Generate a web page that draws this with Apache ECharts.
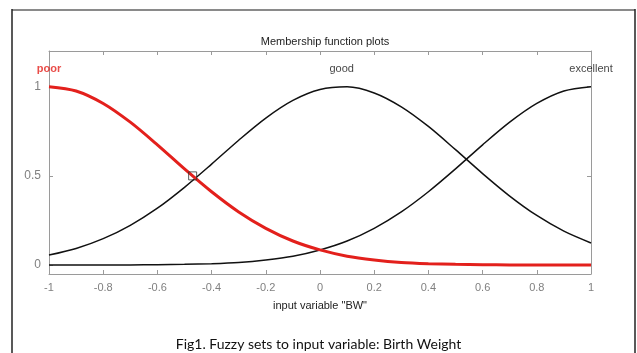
<!DOCTYPE html>
<html>
<head>
<meta charset="utf-8">
<script src="https://cdn.jsdelivr.net/npm/echarts@6/dist/echarts.min.js"></script>
<style>
  html, body { margin: 0; padding: 0; background: #fff; }
  #chart { width: 637px; height: 353px; }
</style>
</head>
<body>
<div id="chart"></div>
<script>
// input variable "BW", sampled every 0.1
const xs = [-1, -0.9, -0.8, -0.7, -0.6, -0.5, -0.4, -0.3, -0.2, -0.1, 0,
            0.1, 0.2, 0.3, 0.4, 0.5, 0.6, 0.7, 0.8, 0.9, 1]

// membership values
const poor = [1, 0.976, 0.906, 0.801, 0.674, 0.539, 0.411, 0.298, 0.206, 0.135, 0.085,
              0.050, 0.029, 0.015, 0.008, 0.004, 0.002, 0.001, 0.0005, 0.0002, 0.0001]
const good = [0.056, 0.093, 0.148, 0.223, 0.319, 0.436, 0.566, 0.700, 0.824, 0.923, 0.984,
              0.999, 0.965, 0.887, 0.777, 0.647, 0.513, 0.387, 0.278, 0.190, 0.124]
const excellent = [0.0001, 0.0002, 0.0005, 0.001, 0.002, 0.004, 0.008, 0.015, 0.029, 0.050, 0.085,
                   0.135, 0.206, 0.298, 0.411, 0.539, 0.674, 0.801, 0.906, 0.976, 1]

const mfNames = ['poor', 'good', 'excellent']
const mfPeaks = [-1, 0.08, 1]
const labelY = 1.1
const selected = [-0.47, 0.5]  // small square on the selected MF

const yTicks = [0, 0.5, 1]

const pairs = ys => xs.map((x, i) => [x, ys[i]])

const boxColor = '#9a9a9a'
const tickLabel = { color: '#808080', fontSize: 11, fontFamily: 'Liberation Sans' }

const chart = echarts.init(document.getElementById('chart'))

const option = {
  animation: false,
  backgroundColor: '#fff',
  title: {
    text: 'Membership function plots',
    left: 320,
    textAlign: 'center',
    top: 31,
    textStyle: { fontSize: 11, fontWeight: 'normal', color: '#222', fontFamily: 'Liberation Sans' }
  },
  grid: { left: 49, right: 46, top: 51, bottom: 79 },
  xAxis: [
    {
      type: 'value', min: -1, max: 1, interval: 0.2,
      name: 'input variable "BW"',
      nameLocation: 'middle',
      nameGap: 26,
      nameTextStyle: { color: '#222', fontSize: 11, fontFamily: 'Liberation Sans' },
      axisLine: { show: true, onZero: false, lineStyle: { color: boxColor } },
      axisTick: { show: true, inside: true, length: 4, lineStyle: { color: boxColor } },
      axisLabel: { ...tickLabel, margin: 8 },
      splitLine: { show: false }
    },
    {
      type: 'value', min: -1, max: 1, interval: 0.2, position: 'top',
      axisLine: { show: true, onZero: false, lineStyle: { color: boxColor } },
      axisTick: { show: true, inside: true, length: 4, lineStyle: { color: boxColor } },
      axisLabel: { show: false },
      splitLine: { show: false }
    }
  ],
  yAxis: [
    {
      type: 'value', min: -0.05, max: 1.2,
      axisLine: { show: true, onZero: false, lineStyle: { color: boxColor } },
      axisTick: { show: true, inside: true, length: 4, customValues: yTicks, lineStyle: { color: boxColor } },
      axisLabel: { ...tickLabel, fontSize: 12, margin: 8, customValues: yTicks },
      splitLine: { show: false }
    },
    {
      type: 'value', min: -0.05, max: 1.2, position: 'right',
      axisLine: { show: true, onZero: false, lineStyle: { color: boxColor } },
      axisTick: { show: true, inside: true, length: 4, customValues: yTicks, lineStyle: { color: boxColor } },
      axisLabel: { show: false },
      splitLine: { show: false }
    }
  ],
  series: [
    {
      name: 'good', type: 'line', data: pairs(good), smooth: 0.3, showSymbol: false,
      lineStyle: { color: '#111', width: 1.5 }, z: 2
    },
    {
      name: 'excellent', type: 'line', data: pairs(excellent), smooth: 0.3, showSymbol: false,
      lineStyle: { color: '#111', width: 1.5 }, z: 2
    },
    {
      name: 'poor', type: 'line', data: pairs(poor), smooth: 0.3, showSymbol: false,
      lineStyle: { color: '#e3201c', width: 3 }, z: 3
    },
    {
      type: 'scatter', symbol: 'rect', symbolSize: 8, z: 4,
      itemStyle: { color: 'rgba(0,0,0,0)', borderColor: '#333', borderWidth: 1 },
      data: [selected]
    },
    {
      type: 'scatter', symbolSize: 0, z: 5,
      data: mfNames.map((n, i) => ({
        value: [mfPeaks[i], labelY],
        label: {
          show: true, position: 'inside', formatter: n,
          fontSize: 11, fontFamily: 'Liberation Sans',
          color: i === 0 ? '#e3201c' : '#111',
          fontWeight: i === 0 ? 'bold' : 'normal'
        }
      }))
    }
  ],
  graphic: [
    // page frame around the figure
    { type: 'line', shape: { x1: 12, y1: 10, x2: 635, y2: 10 }, style: { stroke: '#8a8a8a', lineWidth: 2 } },
    { type: 'line', shape: { x1: 12, y1: 9, x2: 12, y2: 353 }, style: { stroke: '#222', lineWidth: 1.5 } },
    { type: 'line', shape: { x1: 635, y1: 9, x2: 635, y2: 353 }, style: { stroke: '#222', lineWidth: 1.5 } },
    {
      type: 'text', left: 'center', top: 337,
      style: {
        text: 'Fig1. Fuzzy sets to input variable: Birth Weight',
        fontSize: 14, fontFamily: 'Lato', fill: '#111'
      }
    }
  ]
}

chart.setOption(option)
</script>
</body>
</html>
